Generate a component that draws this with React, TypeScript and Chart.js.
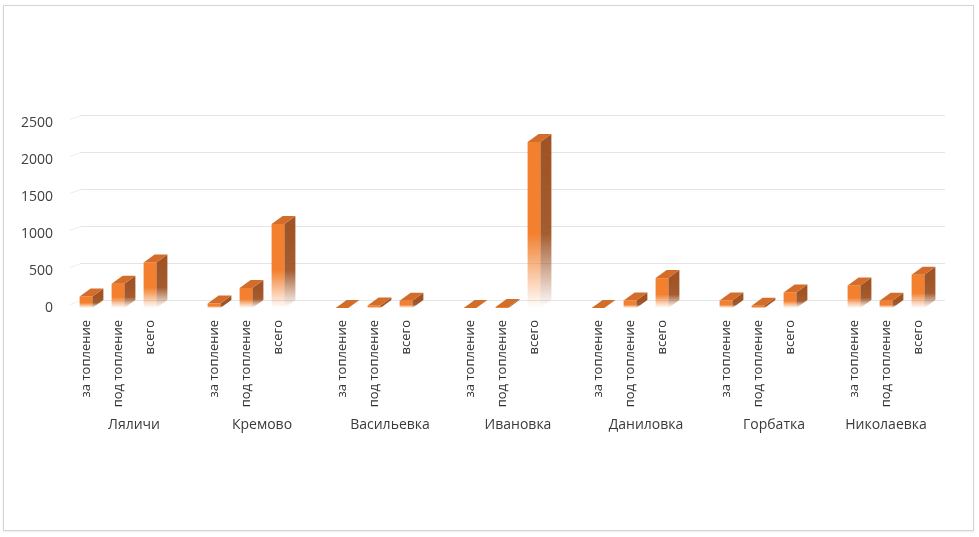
import { useEffect, useRef } from 'react';
import { Chart, registerables } from 'chart.js';

Chart.register(...registerables);

const groups = ['Ляличи', 'Кремово', 'Васильевка', 'Ивановка', 'Даниловка', 'Горбатка', 'Николаевка'];
const subCategories = ['за топление', 'под топление', 'всего'];
const heatingFor = [156, 60, 0, 0, 0, 100, 305];
const heatingUnder = [328, 270, 35, 15, 100, 30, 98];
const totals = [615, 1136, 98, 2244, 404, 210, 449];
const yTicks = [0, 500, 1000, 1500, 2000, 2500];

const DX = 11;
const DY = -8;
const FONT = "'Open Sans', 'DejaVu Sans', sans-serif";

function buildData() {
  const labels: string[] = [];
  const values: (number | null)[] = [];
  const spans: { name: string; start: number; end: number }[] = [];
  groups.forEach((g, i) => {
    const start = labels.length;
    const vals = [heatingFor[i], heatingUnder[i], totals[i]];
    subCategories.forEach((s, k) => {
      labels.push(s);
      values.push(vals[k]);
    });
    if (i < groups.length - 1) {
      labels.push('');
      values.push(null);
    }
    spans.push({ name: g, start, end: labels.length - 1 });
  });
  return { labels, values, spans };
}

export default function App() {
  const ref = useRef<HTMLCanvasElement | null>(null);

  useEffect(() => {
    document.body.style.margin = '0';
    const canvas = ref.current;
    if (!canvas) return;
    const { labels, values, spans } = buildData();

    const gridPlugin = {
      id: 'backGrid',
      beforeDatasetsDraw(chart: any) {
        const { ctx, chartArea, scales } = chart;
        const ys = scales.y;
        ctx.save();
        ctx.lineWidth = 1;
        for (const v of yTicks) {
          const py = Math.round(ys.getPixelForValue(v)) + 0.5;
          ctx.strokeStyle = '#EDEDED';
          ctx.beginPath();
          ctx.moveTo(chartArea.left, py + DY + 4);
          ctx.lineTo(chartArea.left + DX, py + DY);
          ctx.stroke();
          ctx.strokeStyle = '#E4E4E8';
          ctx.beginPath();
          ctx.moveTo(chartArea.left + DX, py + DY);
          ctx.lineTo(chartArea.right + DX, py + DY);
          ctx.stroke();
        }
        ctx.restore();
      },
    };

    const bar3dPlugin = {
      id: 'bar3d',
      afterDatasetsDraw(chart: any) {
        const { ctx } = chart;
        const meta = chart.getDatasetMeta(0);
        const data = chart.data.datasets[0].data;
        ctx.save();
        meta.data.forEach((bar: any, i: number) => {
          if (data[i] == null) return;
          const { x, y, base, width } = bar.getProps(['x', 'y', 'base', 'width'], true);
          if (![x, y, base, width].every(Number.isFinite)) return;
          const l = x - width / 2;
          const r = x + width / 2;
          const h = base - y;
          if (h > 0.5) {
            const g = ctx.createLinearGradient(0, y, 0, base);
            g.addColorStop(0, 'rgba(160,83,36,1)');
            g.addColorStop(0.55, 'rgba(160,83,36,0.95)');
            g.addColorStop(1, 'rgba(160,83,36,0)');
            ctx.fillStyle = g;
            ctx.beginPath();
            ctx.moveTo(r, y);
            ctx.lineTo(r + DX, y + DY);
            ctx.lineTo(r + DX, base + DY);
            ctx.lineTo(r, base);
            ctx.closePath();
            ctx.fill();
          }
          ctx.fillStyle = '#D56D2A';
          ctx.beginPath();
          ctx.moveTo(l, y);
          ctx.lineTo(l + DX, y + DY);
          ctx.lineTo(r + DX, y + DY);
          ctx.lineTo(r, y);
          ctx.closePath();
          ctx.fill();
        });
        ctx.restore();
      },
    };

    const groupLabelPlugin = {
      id: 'groupLabels',
      afterDraw(chart: any) {
        const { ctx, scales } = chart;
        const xs = scales.x;
        ctx.save();
        ctx.font = `14px ${FONT}`;
        ctx.fillStyle = '#3A3A3A';
        ctx.textAlign = 'center';
        ctx.textBaseline = 'middle';
        spans.forEach((s) => {
          const cx = (xs.getPixelForValue(s.start) + xs.getPixelForValue(s.end)) / 2;
          ctx.fillText(s.name, cx, 425);
        });
        ctx.restore();
      },
    };

    const chart = new Chart(canvas, {
      type: 'bar',
      data: {
        labels,
        datasets: [
          {
            data: values,
            categoryPercentage: 1,
            barPercentage: 0.4,
            borderWidth: 0,
            backgroundColor: (c: any) => {
              const ch = c.chart;
              const solid = '#F2802E';
              if (!ch.chartArea || c.type !== 'data' || !c.parsed) return solid;
              const ys = ch.scales.y;
              if (!ys) return solid;
              const top = ys.getPixelForValue(c.parsed.y);
              const base = ys.getPixelForValue(0);
              if (!Number.isFinite(top) || !Number.isFinite(base) || base - top < 1) return solid;
              const g = ch.ctx.createLinearGradient(0, top, 0, base);
              g.addColorStop(0, 'rgba(242,128,46,1)');
              g.addColorStop(0.55, 'rgba(242,128,46,1)');
              g.addColorStop(1, 'rgba(242,128,46,0)');
              return g;
            },
          },
        ],
      },
      options: {
        responsive: false,
        animation: false,
        layout: { padding: { top: 123, left: 0, right: 45, bottom: 0 } },
        plugins: {
          legend: { display: false },
          tooltip: { enabled: false },
        },
        scales: {
          x: {
            grid: { display: false, drawTicks: false },
            border: { display: false },
            ticks: {
              autoSkip: false,
              minRotation: 90,
              maxRotation: 90,
              padding: 12,
              color: '#333333',
              font: { family: FONT, size: 13 },
            },
            afterFit: (s: any) => {
              s.height = 229;
            },
          },
          y: {
            min: 0,
            max: 2500,
            grid: { display: false, drawTicks: false },
            border: { display: false },
            ticks: {
              stepSize: 500,
              padding: 17,
              color: '#404040',
              font: { family: FONT, size: 14 },
              callback: (v: any) => String(v),
            },
            afterFit: (s: any) => {
              s.width = 70;
            },
          },
        },
      },
      plugins: [gridPlugin, bar3dPlugin, groupLabelPlugin],
    });

    return () => chart.destroy();
  }, []);

  return (
    <div style={{ position: 'relative', width: 979, height: 537, background: '#fff', overflow: 'hidden' }}>
      <div
        style={{
          position: 'absolute',
          left: 3,
          top: 5,
          width: 969,
          height: 524,
          border: '1px solid #D4D4D8',
          boxShadow: '0 1px 2px rgba(0,0,0,0.08)',
        }}
      />
      <canvas ref={ref} width={979} height={537} style={{ position: 'absolute', left: 0, top: 0 }} />
    </div>
  );
}
